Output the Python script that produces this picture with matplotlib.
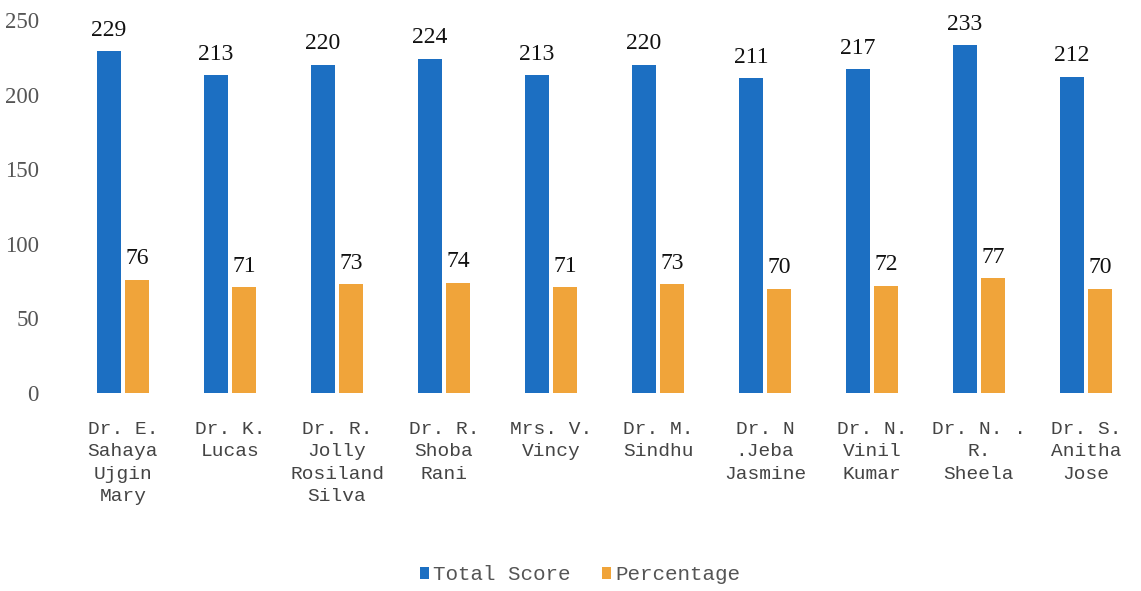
import matplotlib
matplotlib.use("Agg")
import matplotlib.pyplot as plt
import numpy as np

categories = ["Dr. E.\nSahaya\nUjgin\nMary", "Dr. K.\nLucas", "Dr. R.\nJolly\nRosiland\nSilva",
              "Dr. R.\nShoba\nRani", "Mrs. V.\nVincy", "Dr. M.\nSindhu", "Dr. N\n.Jeba\nJasmine",
              "Dr. N.\nVinil\nKumar", "Dr. N. .\nR.\nSheela", "Dr. S.\nAnitha\nJose"]
total_score = [229, 213, 220, 224, 213, 220, 211, 217, 233, 212]
percentage = [76, 71, 73, 74, 71, 73, 70, 72, 77, 70]
yticks = [0, 50, 100, 150, 200, 250]

blue = "#1c6fc2"
orange = "#f0a43a"
serif = ["Liberation Serif", "DejaVu Serif"]
mono = ["Liberation Mono", "DejaVu Sans Mono"]

fig = plt.figure(figsize=(11.41, 5.91), dpi=100)
ax = fig.add_axes([69.5 / 1141, 1 - 393 / 591, 1070 / 1141, (393 - 20) / 591])

x = np.arange(len(categories))
w = 0.23
off = 0.13
b1 = ax.bar(x - off, total_score, w, color=blue, label="Total Score")
b2 = ax.bar(x + off, percentage, w, color=orange, label="Percentage")

for bars, vals in ((b1, total_score), (b2, percentage)):
    for r, v in zip(bars, vals):
        ax.text(r.get_x() + r.get_width() / 2, v + 7, str(v), ha="center", va="bottom",
                fontsize=17, family=serif, color="#111111", clip_on=False)

ax.set_xlim(-0.5, len(categories) - 0.5)
ax.set_ylim(0, 250)
ax.set_yticks(yticks)
ax.set_yticklabels([str(t) for t in yticks], family=serif, fontsize=16.5, color="#555555")
ax.tick_params(axis="y", length=0, pad=22)
ax.set_xticks(x)
ax.set_xticklabels(categories, family=mono, fontsize=14, color="#444444", linespacing=1.42)
ax.tick_params(axis="x", length=0, pad=20)
for s in ax.spines.values():
    s.set_visible(False)

leg = fig.legend(handles=[b1, b2], labels=["Total Score", "Percentage"], loc="center",
                 bbox_to_anchor=(580 / 1141, 1 - 575 / 591), ncol=2, frameon=False,
                 prop={"family": mono, "size": 15}, handlelength=0.45, handleheight=0.45,
                 handletextpad=0.2, columnspacing=1.5, labelcolor="#555555")

fig.savefig("out.png", dpi=100)
